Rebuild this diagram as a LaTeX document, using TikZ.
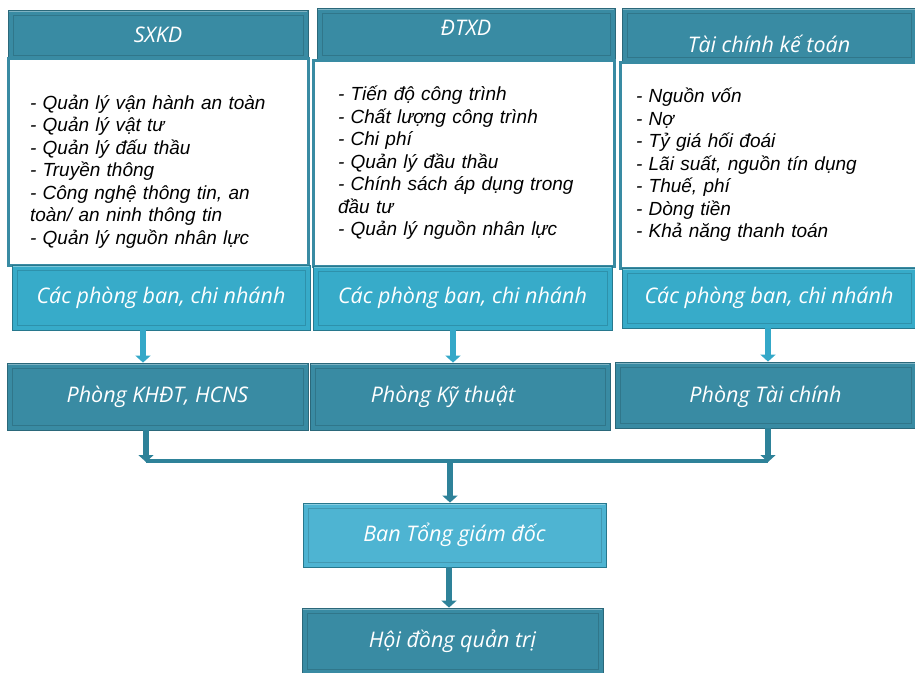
\documentclass[tikz,border=0pt]{standalone}
\usepackage{fontspec}
\setmainfont{Liberation Sans}
\newfontfamily\boxfont{Open Sans}
\usepackage{tikz}
\usetikzlibrary{arrows.meta}
\usetikzlibrary{positioning}
\usetikzlibrary{calc}

\definecolor{tealdark}{RGB}{57,139,163}
\definecolor{teallight}{RGB}{55,171,201}
\definecolor{tealpale}{RGB}{78,180,210}
\definecolor{arrowlight}{RGB}{52,168,200}
\definecolor{arrowdark}{RGB}{46,130,153}

\tikzset{
  bevel/.style={path picture={
      \draw[black,opacity=0.15,line width=1pt]
        ([shift={(5pt,5pt)}]path picture bounding box.south west) rectangle
        ([shift={(-5pt,-5pt)}]path picture bounding box.north east);
      \draw[white,opacity=0.35,line width=1.5pt]
        ([shift={(1pt,-1pt)}]path picture bounding box.north west) --
        ([shift={(-1pt,-1pt)}]path picture bounding box.north east);}},
  darkbox/.style={bevel,fill=tealdark,draw=tealdark!75!black,line width=0.8pt,
      text=white,font=\boxfont\itshape\fontsize{21.5}{24}\selectfont},
  lightbox/.style={darkbox,fill=teallight,draw=teallight!70!black},
  listbox/.style={fill=white,draw=tealdark,line width=3pt,align=left,
      font=\itshape\fontsize{19}{22.5}\selectfont},
  upper/.style={draw=arrowlight,line width=6pt,-{Triangle[width=15pt,length=7pt]}},
  lower/.style={draw=arrowdark,line width=6pt,-{Triangle[width=15pt,length=7pt]}},
}

\begin{document}
\begin{tikzpicture}[x=1pt,y=-1pt]
    \useasboundingbox (0,0) rectangle (915,672);
    % headers
    \node[darkbox,minimum width=300pt,minimum height=50pt] (sxkd) at (158,35) {SXKD};
    \node[darkbox,minimum width=298pt,minimum height=52pt,text depth=12pt] (dtxd) at (466,34) {ĐTXD};
    \node[darkbox,minimum width=294pt,minimum height=54pt,text height=36pt] (tckt) at (769,35) {Tài chính kế toán};
    % lists
    \node[listbox,minimum width=300pt,minimum height=207pt,inner xsep=22pt,text width=256pt] (sxkdlist) at (158,161.5)
      {\rule{0pt}{34pt}- Quản lý vận hành an toàn\\- Quản lý vật tư\\- Quản lý đấu thầu\\- Truyền thông\\- Công nghệ thông tin, an\\toàn/ an ninh thông tin\\- Quản lý nguồn nhân lực};
    \node[listbox,minimum width=301pt,minimum height=206pt,inner xsep=25pt,text width=251pt] (dtxdlist) at (463.5,163)
      {- Tiến độ công trình\\- Chất lượng công trình\\- Chi phí\\- Quản lý đầu thầu\\- Chính sách áp dụng trong\\đầu tư\\- Quản lý nguồn nhân lực};
    \node[listbox,minimum width=296pt,minimum height=206pt,inner xsep=16pt,text width=264pt] (tcktlist) at (768,165)
      {- Nguồn vốn\\- Nợ\\- Tỷ giá hối đoái\\- Lãi suất, nguồn tín dụng\\- Thuế, phí\\- Dòng tiền\\- Khả năng thanh toán};
    % branches
    \node[lightbox,minimum width=298pt,minimum height=65pt] (cpb1) at (161,297.5) {Các phòng ban, chi nhánh};
    \node[lightbox,minimum width=299pt,minimum height=64pt] (cpb2) at (462.5,298) {Các phòng ban, chi nhánh};
    \node[lightbox,minimum width=294pt,minimum height=60pt] (cpb3) at (769,298) {Các phòng ban, chi nhánh};
    % departments
    \node[darkbox,minimum width=301pt,minimum height=67pt] (khdt) at (157.5,396.5) {Phòng KHĐT, HCNS};
    \node[darkbox,minimum width=300pt,minimum height=67pt] (kythuat) at (460,396.5) {\hspace*{-34pt}Phòng Kỹ thuật};
    \node[darkbox,minimum width=301pt,minimum height=66pt,text height=20pt] (taichinh) at (765.5,395) {Phòng Tài chính};
    % board
    \node[lightbox,fill=tealpale,minimum width=303pt,minimum height=64pt] (tgd) at (454.5,535) {Ban Tổng giám đốc};
    \node[darkbox,minimum width=301pt,minimum height=66pt] (hdqt) at (452.5,641) {Hội đồng quản trị};
    % connectors
    \coordinate (busl) at (146,461);
    \coordinate (busm) at (450,461);
    \coordinate (busr) at (768,461);
    \draw[upper] (cpb1.south -| 143,0) -- (khdt.north -| 143,0);
    \draw[upper] (cpb2.south -| 453,0) -- (kythuat.north -| 453,0);
    \draw[upper] (cpb3.south -| 768,0) -- (taichinh.north -| 768,0);
    \draw[arrowdark,line width=3.5pt] (busl) -- (busr);
    \draw[lower] (khdt.south -| busl) -- ([yshift=-1pt]busl);
    \draw[lower] (taichinh.south -| busr) -- ([yshift=-1pt]busr);
    \draw[lower] (busm) -- (tgd.north -| busm);
    \draw[lower] (tgd.south -| 449,0) -- (hdqt.north -| 449,0);
\end{tikzpicture}
\end{document}
